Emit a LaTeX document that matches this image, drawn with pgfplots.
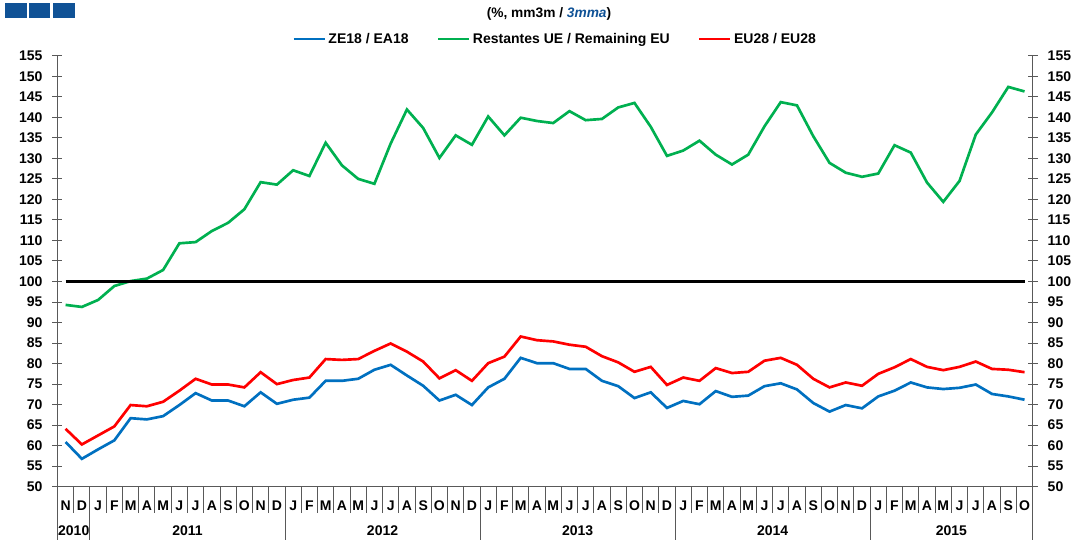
\documentclass[border=0pt]{standalone}
\usepackage{fontspec}
\setmainfont{Liberation Sans}
\usepackage{pgfplots}
\usepackage{pgfplotstable}
\pgfplotsset{compat=1.18}
\definecolor{cB}{RGB}{0,112,192}
\definecolor{cG}{RGB}{0,176,80}
\definecolor{cR}{RGB}{255,0,0}
\definecolor{sq}{RGB}{16,82,150}
\definecolor{axc}{RGB}{89,89,89}
\pgfplotstableread{
x B G R
0 60.9 94.3 64.1
1 56.8 93.8 60.3
2 59.1 95.5 62.5
3 61.3 98.9 64.7
4 66.7 100.1 69.9
5 66.4 100.7 69.6
6 67.2 102.8 70.7
7 69.9 109.3 73.4
8 72.8 109.6 76.3
9 71.0 112.3 74.9
10 71.0 114.3 74.9
11 69.6 117.6 74.2
12 73.0 124.2 77.9
13 70.2 123.6 75.0
14 71.2 127.1 76.0
15 71.7 125.7 76.6
16 75.8 133.8 81.1
17 75.8 128.3 80.9
18 76.3 125.0 81.1
19 78.5 123.8 83.1
20 79.7 133.6 84.9
21 77.1 141.9 82.9
22 74.6 137.4 80.5
23 71.0 130.1 76.4
24 72.4 135.6 78.4
25 69.9 133.3 75.8
26 74.2 140.2 80.1
27 76.3 135.6 81.7
28 81.4 139.9 86.6
29 80.1 139.1 85.7
30 80.1 138.6 85.4
31 78.7 141.5 84.6
32 78.7 139.3 84.1
33 75.8 139.6 81.8
34 74.5 142.4 80.3
35 71.6 143.5 78.0
36 73.0 137.7 79.2
37 69.2 130.6 74.8
38 70.9 131.9 76.6
39 70.1 134.3 75.8
40 73.3 130.9 78.9
41 71.9 128.5 77.7
42 72.2 130.9 78.0
43 74.5 137.8 80.7
44 75.2 143.7 81.4
45 73.7 142.9 79.7
46 70.4 135.4 76.3
47 68.3 128.9 74.2
48 69.9 126.5 75.4
49 69.1 125.5 74.6
50 72.0 126.3 77.5
51 73.4 133.2 79.1
52 75.4 131.4 81.1
53 74.2 124.1 79.2
54 73.8 119.4 78.4
55 74.1 124.5 79.2
56 74.9 135.8 80.5
57 72.6 141.2 78.7
58 72.0 147.4 78.5
59 71.2 146.3 77.9
}\data
\newcommand{\lf}{\bfseries\fontsize{10.5}{12}\selectfont}
\begin{document}
\begin{tikzpicture}
\path[use as bounding box] (0pt,0pt) rectangle (810pt,404.25pt);
\fill[sq] (3.4pt,390.5pt) rectangle (20.25pt,402.2pt);
\fill[sq] (21.75pt,390.5pt) rectangle (37.5pt,402.2pt);
\fill[sq] (39.75pt,390.5pt) rectangle (56.25pt,402.2pt);
\node[font=\bfseries\fontsize{10.3}{12}\selectfont] at (411.75pt,393.75pt) {(\%, mm3m / \textcolor{sq}{\itshape 3mma})};
\begin{axis}[name=ax, at={(43.1pt,39.2pt)}, anchor=south west, scale only axis,
  width=731.4pt, height=323.25pt,
  xmin=-0.5, xmax=59.5, ymin=50, ymax=155,
  axis x line*=bottom, axis y line*=left,
  axis line style={axc, line width=0.75pt},
  ytick={50,55,...,155},
  xtick={0,...,59},
  xticklabels={N,D,J,F,M,A,M,J,J,A,S,O,N,D,J,F,M,A,M,J,J,A,S,O,N,D,J,F,M,A,M,J,J,A,S,O,N,D,J,F,M,A,M,J,J,A,S,O,N,D,J,F,M,A,M,J,J,A,S,O},
  x tick style={draw=none},
  y tick style={axc, line width=0.75pt},
  tick align=center, major tick length=7.5pt,
  /pgf/number format/assume math mode=true,
  ticklabel style={font=\lf},
  xticklabel style={anchor=center, yshift=-10.5pt},
  yticklabel style={xshift=-4pt},
  clip=false,
  legend style={at={(0.5107,1.0387)}, anchor=center, draw=none, fill=none,
    legend columns=3, font=\lf, inner sep=0pt,
    /tikz/every even column/.append style={column sep=19.25pt}},
  legend image code/.code={\path (0pt,0pt) -- (23pt,0pt);
    \draw[#1, overlay] (0pt,0pt) -- (23.25pt,0pt);},
]
\addplot[cB, line width=2pt] table[x=x, y=B] {\data};
\addlegendentry{ZE18 / EA18}
\addplot[cG, line width=2pt] table[x=x, y=G] {\data};
\addlegendentry{Restantes UE / Remaining EU}
\addplot[cR, line width=2pt] table[x=x, y=R] {\data};
\addlegendentry{EU28 / EU28}
\addplot[black, line width=1.8pt, forget plot] coordinates {(0,100) (59,100)};
\end{axis}
\begin{axis}[at={(43.1pt,39.2pt)}, anchor=south west, scale only axis,
  width=731.4pt, height=323.25pt,
  xmin=-0.5, xmax=59.5, ymin=50, ymax=155,
  axis x line=none, axis y line*=right,
  axis line style={axc, line width=0.75pt},
  ytick={50,55,...,155},
  y tick style={axc, line width=0.75pt},
  tick align=center, major tick length=7.5pt,
  /pgf/number format/assume math mode=true,
  ticklabel style={font=\lf},
  yticklabel style={xshift=4pt},
]
\addplot[draw=none, forget plot] coordinates {(0,50)};
\end{axis}
\foreach \i in {1,...,59} \draw[axc, line width=0.75pt] ([xshift=\i*12.19pt]ax.south west) -- ++(0pt,-19.5pt);
\foreach \i in {0,2,14,26,38,50,60} \draw[axc, line width=0.75pt] ([xshift=\i*12.19pt]ax.south west) -- ++(0pt,-40pt);
\foreach \c/\t in {1/2010,8/2011,20/2012,32/2013,44/2014,55/2015}
  \node[font=\lf, anchor=center] at ([xshift=\c*12.19pt, yshift=-32.9pt]ax.south west) {\t};
\end{tikzpicture}
\end{document}
